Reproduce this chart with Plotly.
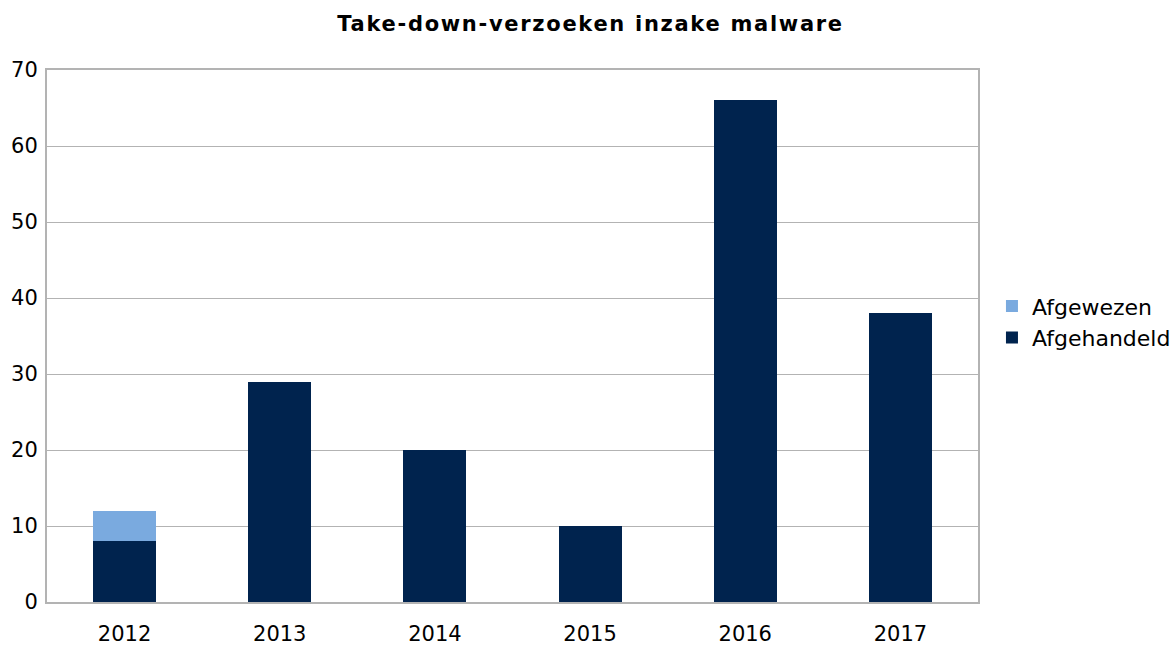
import plotly.graph_objects as go

years = ["2012", "2013", "2014", "2015", "2016", "2017"]
afgehandeld = [8, 29, 20, 10, 66, 38]
afgewezen = [4, 0, 0, 0, 0, 0]

fig = go.Figure()
fig.add_trace(go.Bar(x=years, y=afgehandeld, name="Afgehandeld",
                     marker=dict(color="#00234E", line=dict(width=0))))
fig.add_trace(go.Bar(x=years, y=afgewezen, name="Afgewezen",
                     marker=dict(color="#7AAADF", line=dict(width=0))))

fig.update_layout(
    width=1174, height=646,
    barmode="stack", bargap=0.594,
    paper_bgcolor="white", plot_bgcolor="white",
    font=dict(family="DejaVu Sans", size=21, color="#000000"),
    margin=dict(l=47, r=196, t=70, b=44, autoexpand=False),
    title=dict(text='<span style="letter-spacing:1.7px">Take-down-verzoeken inzake malware</span>',
               x=0.503, xref="container", xanchor="center",
               y=0.963, yref="container", yanchor="middle",
               font=dict(family="DejaVu Sans", size=21, color="#000000", weight="bold")),
    legend=dict(traceorder="reversed", x=1.015, xanchor="left", y=0.526, yanchor="middle",
                font=dict(size=22), bgcolor="rgba(0,0,0,0)", tracegroupgap=0),
    showlegend=True,
)
fig.update_yaxes(range=[0, 70], dtick=10, showgrid=True, gridcolor="#B3B3B3", gridwidth=1,
                 showline=True, linecolor="#B3B3B3", linewidth=2, mirror=True,
                 zeroline=False, ticks="", ticklabelstandoff=3, automargin=False)
fig.update_xaxes(showline=True, linecolor="#B3B3B3", linewidth=2, mirror=True,
                 ticks="", ticklabelstandoff=12, automargin=False)

fig.write_html("out.html", config={"displayModeBar": False},
               post_script="document.body.style.margin='0px';")
